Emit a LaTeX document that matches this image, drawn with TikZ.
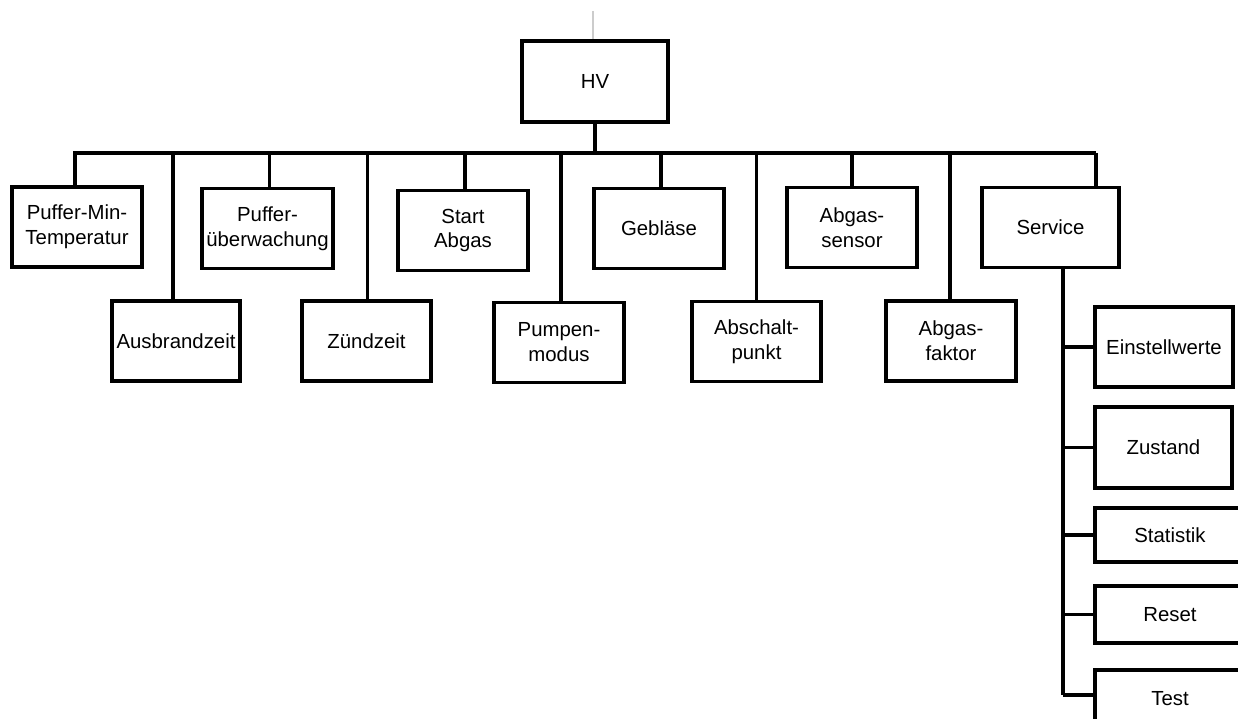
\documentclass[tikz,border=0pt]{standalone}
\usepackage{fontspec}
\setmainfont{Liberation Sans}
\begin{document}
\begin{tikzpicture}[x=0.02cm,y=-0.02cm,
  box/.style={draw=black,line width=2pt,fill=white,align=center,inner sep=1pt,
    font=\fontsize{11.6}{14.2}\selectfont,minimum width=#1*0.02cm},
  box/.default=130,
  conn/.style={draw=black,line width=2pt},
  h80/.style={minimum height=80*0.02cm}]
\useasboundingbox (0,0) rectangle (1238,719);
\clip (0,0) rectangle (1238,719);
% top node
\node[box=146,minimum height=81*0.02cm] (HV) at (595,81.5) {HV};
\coordinate (top) at (593,11);
\draw[gray!40,line width=0.6pt] (top) -- (top |- HV.north);
% first level
\node[box=130,h80] (pmt) at (77,227) {Puffer-Min-\\Temperatur};
\node[box=128,h80] (aus) at (176,341) {Ausbrandzeit};
\node[box=131,h80] (pue) at (267.5,228.5) {Puffer-\\überwachung};
\node[box=129,h80] (zue) at (366.5,341) {Zündzeit};
\node[box=130,h80] (sta) at (463,230.5) {Start\\Abgas};
\node[box=130,h80] (pum) at (559,342.5) {Pumpen-\\modus};
\node[box=130,h80] (geb) at (659,228.5) {Gebläse};
\node[box=129,h80] (abs) at (756.5,341.5) {Abschalt-\\punkt};
\node[box=130,h80] (ags) at (852,227.5) {Abgas-\\sensor};
\node[box=130,h80] (agf) at (951,341) {Abgas-\\faktor};
\node[box=137,h80] (ser) at (1050.5,227.5) {Service};
% bus
\coordinate (busL) at (75,153);
\coordinate (busR) at (1096,153);
\draw[conn] (HV.south) -- (HV.south |- busL);
\draw[conn] ([xshift=-2*0.02cm]pmt.north) |- (busR);
\foreach \n/\dx in {aus/-3,pue/2,zue/1,sta/2,pum/2,geb/2,abs/0,ags/0,agf/-1,ser/45.5}
  \draw[conn] ([xshift=\dx*0.02cm]\n.north) -- ([xshift=\dx*0.02cm]\n.north |- busL);
% service children
\node[box=138,h80] (ein) at (1164,347) {Einstellwerte};
\node[box=137,minimum height=81*0.02cm] (zus) at (1163.5,447.5) {Zustand};
\node[box=150,minimum height=54*0.02cm] (stat) at (1170,535) {Statistik};
\node[box=150,minimum height=57*0.02cm] (res) at (1170,614.5) {Reset};
\node[box=150,minimum height=57*0.02cm] (tes) at (1170,698.5) {Test};
\coordinate (sp0) at (1063,268);
\coordinate (sp1) at (1063,695);
\draw[conn] (sp0) -- (sp1);
\draw[conn] (sp0 |- ein.west) -- (ein.west);
\draw[conn] (sp0 |- zus.west) -- (zus.west);
\draw[conn] (sp0 |- stat.west) -- (stat.west);
\draw[conn] (sp0 |- res.west) -- (res.west);
\draw[conn] (sp1) -- (sp1 -| tes.west);
\end{tikzpicture}
\end{document}
